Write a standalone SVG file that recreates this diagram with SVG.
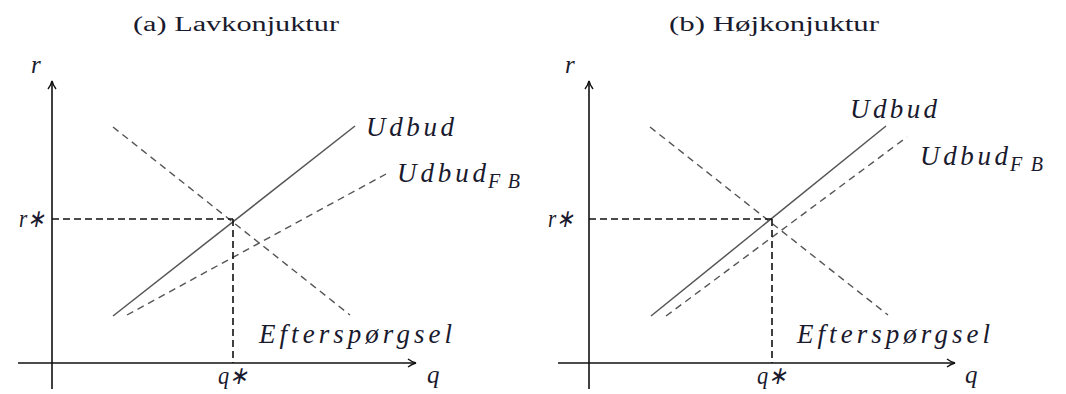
<svg xmlns="http://www.w3.org/2000/svg" width="1066" height="394" viewBox="0 0 1066 394">
<defs>
<style>
.title{font-family:"Liberation Serif",serif;font-size:20px;fill:#1a1a2e}
.m{font-family:"Liberation Serif",serif;font-style:italic;font-size:27px;fill:#1a1a2e}
.s{font-family:"Liberation Serif",serif;font-style:italic;font-size:25px;fill:#1a1a2e}
.sub{font-family:"Liberation Serif",serif;font-style:italic;font-size:20px;fill:#1a1a2e}
.axis{stroke:#111;stroke-width:1.6;fill:none}
.sup{stroke:#555;stroke-width:1.5;fill:none}
.dash{stroke:#555;stroke-width:1.4;fill:none;stroke-dasharray:7 5}
.guide{stroke:#111;stroke-width:1.6;fill:none;stroke-dasharray:7 4}
</style>
<marker id="arr" viewBox="0 0 10 10" refX="9" refY="5" markerWidth="10" markerHeight="10" markerUnits="userSpaceOnUse" orient="auto">
<path d="M1,1 Q5,4 9,5 Q5,6 1,9" fill="none" stroke="#111" stroke-width="1.4"/>
</marker>
</defs>
<rect width="1066" height="394" fill="#fff"/>

<g id="panel-a">
<text class="title" x="236" y="31" text-anchor="middle" textLength="206" lengthAdjust="spacingAndGlyphs">(a) Lavkonjuktur</text>
<g id="axes-a">
<line class="axis" x1="52" y1="389" x2="52" y2="81" marker-end="url(#arr)"/>
<line class="axis" x1="18" y1="363" x2="416" y2="363" marker-end="url(#arr)"/>
<text class="s" x="31" y="73">r</text>
<text class="s" x="427" y="383">q</text>
</g>
<g id="curves-a">
<line class="sup" x1="113" y1="316" x2="355" y2="126"/>
<line class="dash" x1="113" y1="127" x2="350" y2="315"/>
<line class="dash" x1="127" y1="315" x2="386" y2="174"/>
</g>
<g id="guides-a">
<line class="guide" x1="52" y1="219" x2="233" y2="219"/>
<line class="guide" x1="233" y1="219" x2="233" y2="363"/>
<text class="s" x="19" y="227" textLength="26" lengthAdjust="spacingAndGlyphs">r∗</text>
<text class="s" x="218" y="384" textLength="30" lengthAdjust="spacingAndGlyphs">q∗</text>
</g>
<g id="labels-a">
<text class="m" x="366" y="136" textLength="88" lengthAdjust="spacing">Udbud</text>
<text class="m" x="397" y="182" textLength="89" lengthAdjust="spacing">Udbud</text>
<text class="sub" x="488" y="188" textLength="32" lengthAdjust="spacing">FB</text>
<text class="m" x="259" y="343" textLength="193" lengthAdjust="spacing">Efterspørgsel</text>
</g>
</g>

<g id="panel-b">
<text class="title" x="774" y="31" text-anchor="middle" textLength="210" lengthAdjust="spacingAndGlyphs">(b) Højkonjuktur</text>
<g id="axes-b">
<line class="axis" x1="589" y1="389" x2="589" y2="81" marker-end="url(#arr)"/>
<line class="axis" x1="558" y1="363" x2="955" y2="363" marker-end="url(#arr)"/>
<text class="s" x="565" y="73">r</text>
<text class="s" x="965" y="383">q</text>
</g>
<g id="curves-b">
<line class="sup" x1="651" y1="316" x2="886" y2="126"/>
<line class="dash" x1="650" y1="127" x2="888" y2="315"/>
<line class="dash" x1="666" y1="316" x2="907" y2="137"/>
</g>
<g id="guides-b">
<line class="guide" x1="589" y1="219" x2="772" y2="219"/>
<line class="guide" x1="772" y1="219" x2="772" y2="363"/>
<text class="s" x="548" y="227" textLength="26" lengthAdjust="spacingAndGlyphs">r∗</text>
<text class="s" x="757" y="384" textLength="30" lengthAdjust="spacingAndGlyphs">q∗</text>
</g>
<g id="labels-b">
<text class="m" x="850" y="118" textLength="87" lengthAdjust="spacing">Udbud</text>
<text class="m" x="920" y="165" textLength="88" lengthAdjust="spacing">Udbud</text>
<text class="sub" x="1010" y="171" textLength="33" lengthAdjust="spacing">FB</text>
<text class="m" x="797" y="343" textLength="193" lengthAdjust="spacing">Efterspørgsel</text>
</g>
</g>
</svg>
